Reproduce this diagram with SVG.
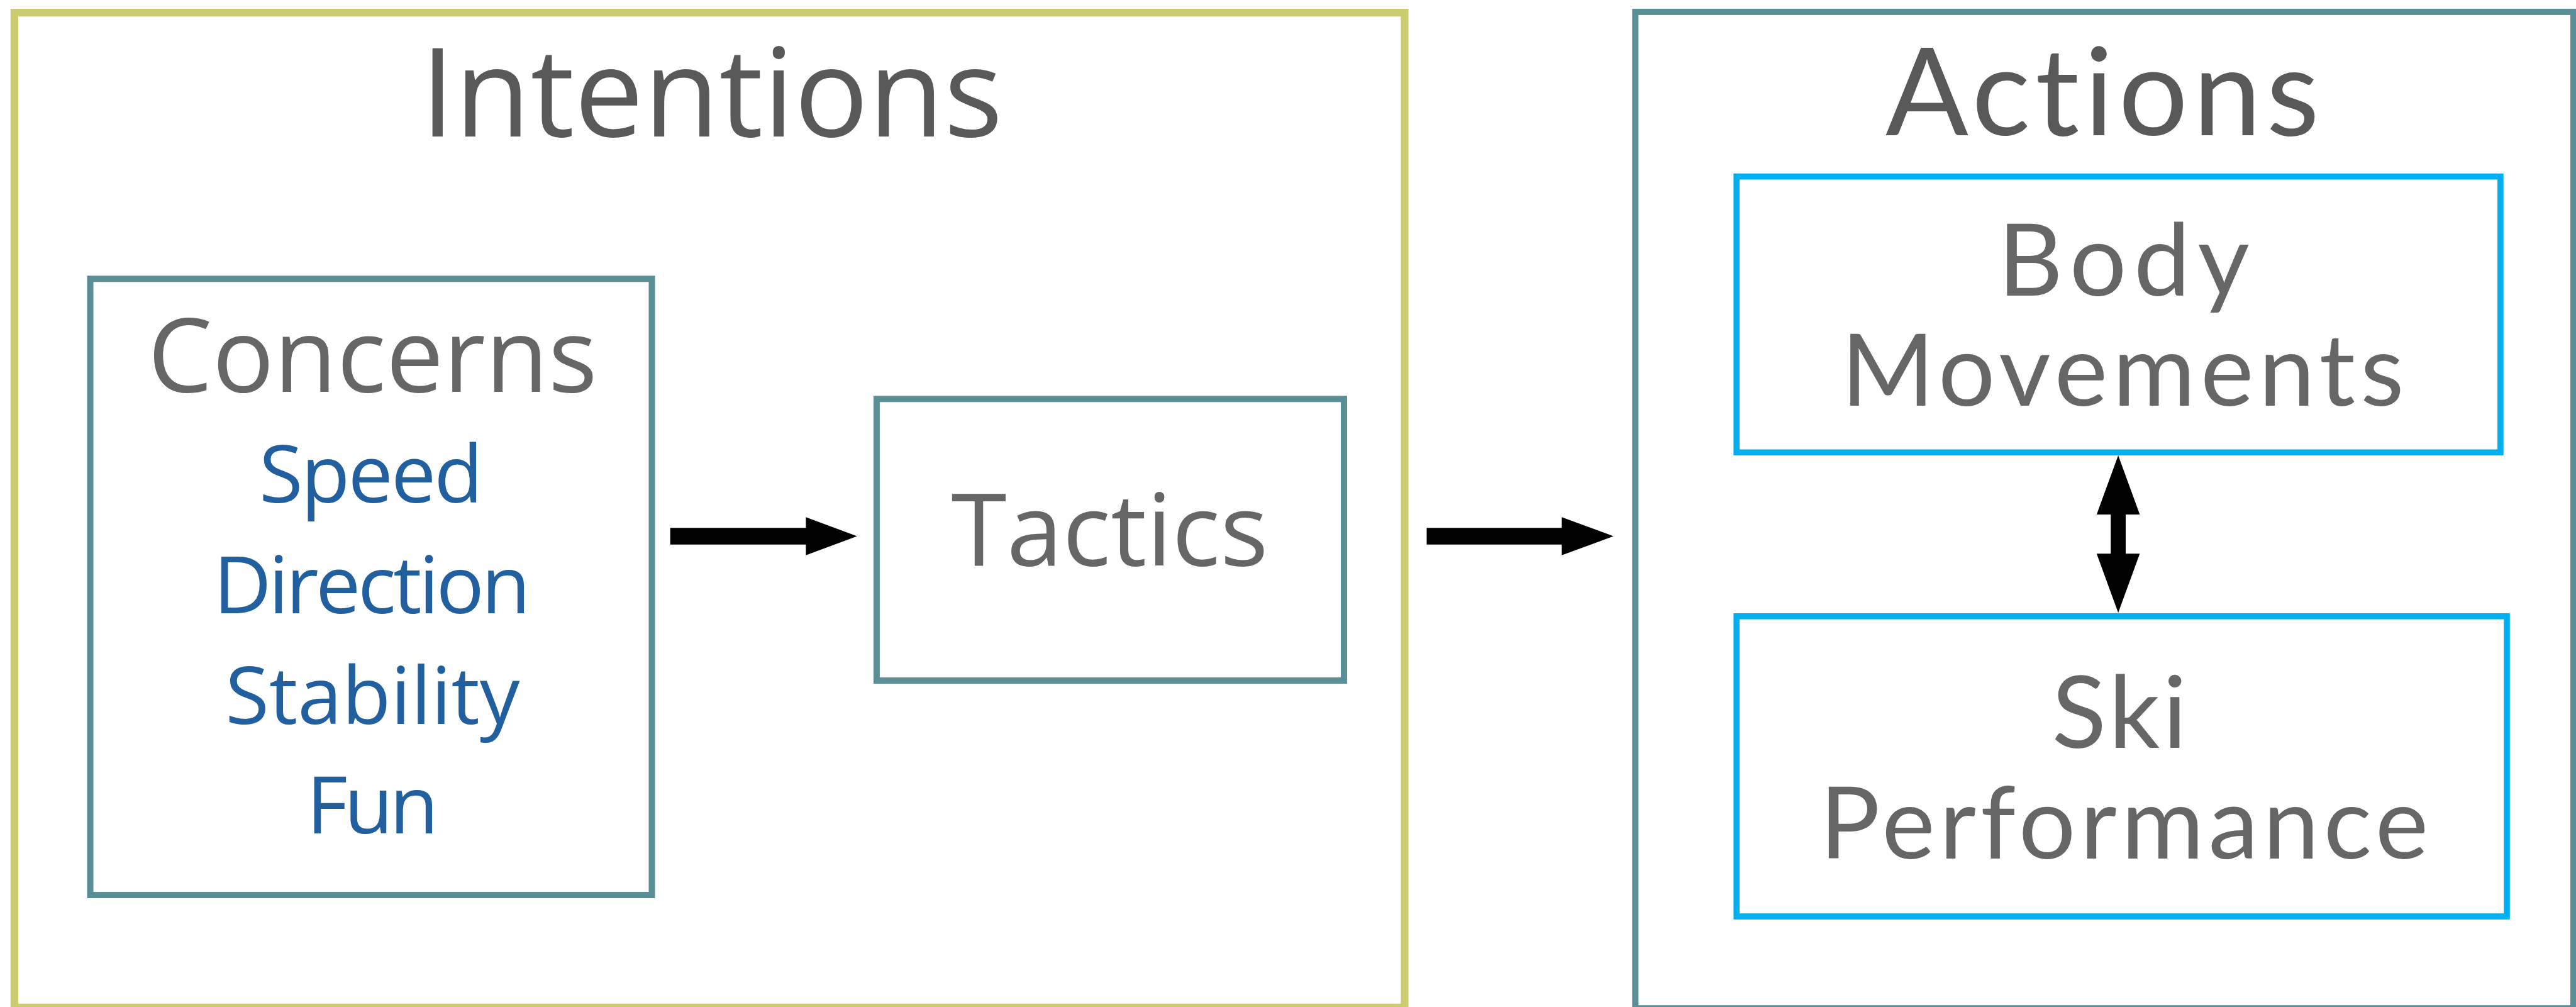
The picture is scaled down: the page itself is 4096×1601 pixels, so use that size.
<svg xmlns="http://www.w3.org/2000/svg" width="4096" height="1601" viewBox="0 0 4096 1601">
<style>
.bg{fill:#ffffff}
.box{fill:none}
.outerL{stroke:#CBCB70;stroke-width:12.2}
.teal{stroke:#5A8F98;stroke-width:10}
.cyan{stroke:#00B0F0;stroke-width:9.6}
.hum{font-family:"Open Sans","Noto Sans","Liberation Sans",sans-serif;text-anchor:middle;font-variant-ligatures:none}
.geo{font-family:Lato,"Liberation Sans",sans-serif;text-anchor:middle;font-variant-ligatures:none}
.title{fill:#595959}
.lbl{fill:#666666}
.item{fill:#215F9F}
.arrow{fill:#000000}
</style>
<rect class="bg" x="0" y="0" width="4096" height="1601"/>
<g id="intentions">
<rect class="box outerL" x="22.85" y="20.1" width="2210.6" height="1581.7"/>
<text class="hum title" x="1131.5" y="216.6" font-size="196">Intentions</text>
</g>
<g id="concerns">
<rect class="box teal" x="143.5" y="443.3" width="893" height="979.7"/>
<text class="hum lbl" x="592.3" y="623.3" font-size="163">Concerns</text>
<text class="hum item" x="590" y="798.8" font-size="127" textLength="356" lengthAdjust="spacing">Speed</text>
<text class="hum item" x="591.4" y="975.2" font-size="127" textLength="504" lengthAdjust="spacing">Direction</text>
<text class="hum item" x="592.3" y="1150.7" font-size="127" textLength="468" lengthAdjust="spacing">Stability</text>
<text class="hum item" x="592.3" y="1325.3" font-size="127" textLength="210" lengthAdjust="spacing">Fun</text>
</g>
<g id="tactics">
<rect class="box teal" x="1393.9" y="634.3" width="743.1" height="447.7"/>
<text class="hum lbl" x="1764.5" y="898.5" font-size="160">Tactics</text>
</g>
<g id="actions">
<rect class="box teal" x="2600.3" y="18.9" width="1491.7" height="1584.3"/>
<text class="geo title" x="3343" y="214.8" font-size="195" textLength="690" lengthAdjust="spacing">Actions</text>
</g>
<g id="body-movements">
<rect class="box cyan" x="2761.2" y="280.6" width="1214.7" height="438.7"/>
<text class="geo lbl" x="3376.8" y="469.8" font-size="160" textLength="400" lengthAdjust="spacing">Body</text>
<text class="geo lbl" x="3375" y="645.3" font-size="160" textLength="895" lengthAdjust="spacing">Movements</text>
</g>
<g id="ski-performance">
<rect class="box cyan" x="2761.2" y="979.8" width="1224.8" height="477.2"/>
<text class="geo lbl" x="3370" y="1189.1" font-size="160" textLength="215" lengthAdjust="spacing">Ski</text>
<text class="geo lbl" x="3377.2" y="1364.6" font-size="160" textLength="968" lengthAdjust="spacing">Performance</text>
</g>
<g id="connectors">
<polygon class="arrow" points="1065.7,839.3 1281.4,839.3 1281.4,822.3 1362.8,852.5 1281.4,882.7 1281.4,865.7 1065.7,865.7"/>
<polygon class="arrow" points="2268.5,839.3 2483.3,839.3 2483.3,822.3 2565.6,852.5 2483.3,882.7 2483.3,865.7 2268.5,865.7"/>
<polygon class="arrow" points="3368.1,723.9 3402.4,818 3380,818 3380,880.2 3402.4,880.2 3368.1,974.3 3333.8,880.2 3356.2,880.2 3356.2,818 3333.8,818"/>
</g>
</svg>
